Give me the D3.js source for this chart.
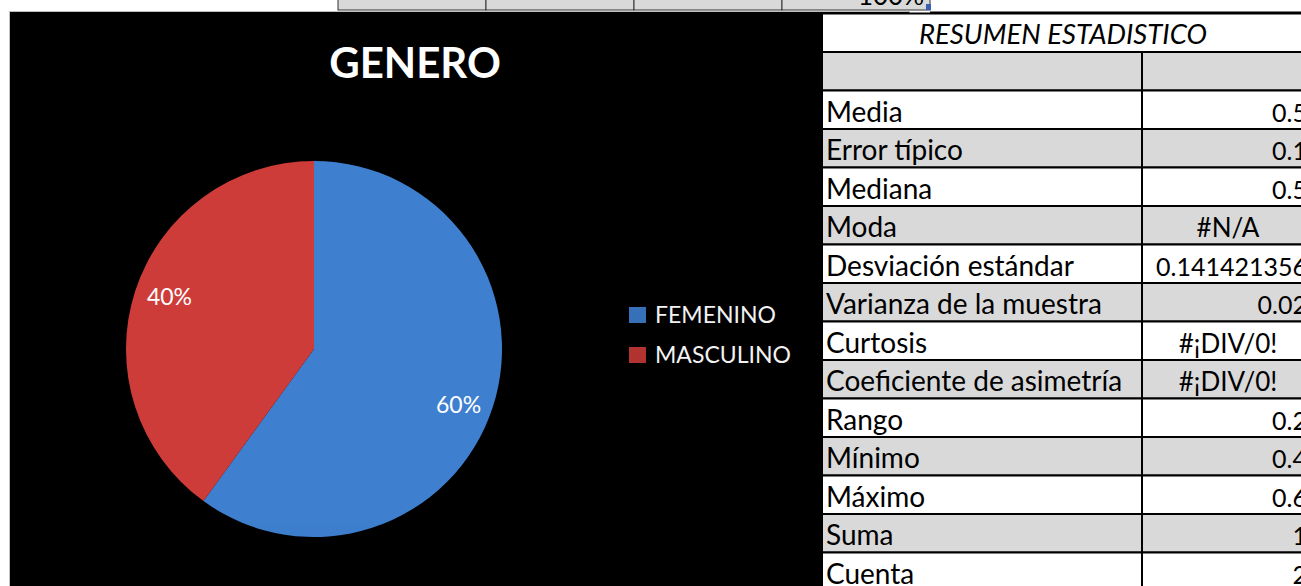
<!DOCTYPE html>
<html>
<head>
<meta charset="utf-8">
<script src="https://cdn.jsdelivr.net/npm/d3@7"></script>
<style>
  html, body { margin: 0; padding: 0; background: #ffffff; overflow: hidden; }
  svg { display: block; }
</style>
</head>
<body>
<svg id="chart" width="1301" height="586"></svg>
<script>
// ---- data ----
const chartTitle = "GENERO";
const categories = ["FEMENINO", "MASCULINO"];
const shares = [60, 40];
const tableTitle = "RESUMEN ESTADISTICO";
const statLabels = ["Media", "Error típico", "Mediana", "Moda", "Desviación estándar",
  "Varianza de la muestra", "Curtosis", "Coeficiente de asimetría", "Rango",
  "Mínimo", "Máximo", "Suma", "Cuenta"];
const statValues = ["0.5", "0.1", "0.5", "#N/A", "0.141421356", "0.02", "#¡DIV/0!",
  "#¡DIV/0!", "0.2", "0.4", "0.6", "1", "2"];
const topStripCells = ["", "", "", "100%"];

// ---- drawing ----
const svg = d3.select("#chart");
const FONT = "Lato, 'Open Sans', sans-serif";

// top strip of spreadsheet cells
const stripX = d3.scaleBand().domain(d3.range(topStripCells.length)).range([338, 930]).padding(0);
const strip = svg.append("g");
strip.selectAll("rect").data(topStripCells).join("rect")
  .attr("x", (d, i) => stripX(i)).attr("y", -20)
  .attr("width", stripX.bandwidth()).attr("height", 30)
  .attr("fill", "#d9d9d9").attr("stroke", "#333").attr("stroke-width", 1);
strip.selectAll("text").data(topStripCells).join("text")
  .attr("x", (d, i) => stripX(i) + stripX.bandwidth() - 6).attr("y", 5)
  .attr("text-anchor", "end").attr("font-family", FONT).attr("font-size", 26)
  .attr("fill", "#000").text(d => d);
strip.append("rect").attr("x", 926).attr("y", 4).attr("width", 5).attr("height", 6).attr("fill", "#3a5fb0");
svg.append("line").attr("x1", 930).attr("x2", 1301).attr("y1", 12.5).attr("y2", 12.5)
  .attr("stroke", "#000").attr("stroke-width", 2);

// chart area
svg.append("rect").attr("x", 9.5).attr("y", 11.5).attr("width", 900).attr("height", 600)
  .attr("fill", "#000").attr("stroke", "#bfbfbf").attr("stroke-width", 1);

svg.append("text").attr("x", 415).attr("y", 78).attr("text-anchor", "middle")
  .attr("font-family", FONT).attr("font-weight", 700).attr("font-size", 42)
  .attr("fill", "#ffffff").text(chartTitle);

// pie
const cx = 314, cy = 349, R = 188;
const defs = svg.append("defs");
const grads = [["#3e80cf", "#2c5a97"], ["#ce3c39", "#982a28"]];
categories.forEach((c, i) => {
  const g = defs.append("linearGradient").attr("id", "g" + i)
    .attr("gradientUnits", "userSpaceOnUse")
    .attr("x1", 0).attr("x2", 0).attr("y1", cy - R).attr("y2", cy + R);
  g.append("stop").attr("offset", 0).attr("stop-color", grads[i][0]);
  g.append("stop").attr("offset", 1).attr("stop-color", grads[i][1]);
});
const color = d3.scaleOrdinal().domain(categories).range(["url(#g0)", "url(#g1)"]);
const pie = d3.pie().sort(null).value(d => d.v);
const arcs = pie(categories.map((c, i) => ({ c, v: shares[i] })));
const arc = d3.arc().innerRadius(0).outerRadius(R);
const labelArc = d3.arc().innerRadius(152).outerRadius(152);
const pg = svg.append("g").attr("transform", `translate(${cx},${cy})`);
pg.selectAll("path").data(arcs).join("path")
  .attr("d", arc).attr("fill", d => color(d.data.c));
pg.selectAll("text").data(arcs).join("text")
  .attr("transform", d => {
    const [x, y] = labelArc.centroid(d);
    return `translate(${x},${y + (y > 0 ? 9 : -5)})`;
  })
  .attr("text-anchor", "middle").attr("dy", "0.35em")
  .attr("font-family", FONT).attr("font-size", 23).attr("fill", "#ffffff")
  .text(d => d3.format(".0%")(d.data.v / d3.sum(shares)));

// legend
const ly = d3.scalePoint().domain(categories).range([315, 355]);
const lg = svg.append("g");
lg.selectAll("rect").data(categories).join("rect")
  .attr("x", 629).attr("y", d => ly(d) - 8).attr("width", 17).attr("height", 16)
  .attr("fill", d => color(d));
lg.selectAll("text").data(categories).join("text")
  .attr("x", 655).attr("y", d => ly(d) + 8)
  .attr("font-family", FONT).attr("font-size", 23).attr("fill", "#f2f2f2")
  .text(d => d);

// statistics table
const rowH = 38.5, tableTop = 13.5, tx = 822, colX = 1142, tRight = 1314;
const rows = [{ label: tableTitle, value: null, title: true }, { label: "", value: "", header: true }]
  .concat(statLabels.map((l, i) => ({ label: l, value: statValues[i] })));
const ry = d3.scaleLinear().domain([0, 1]).range([tableTop, tableTop + rowH]);
const tg = svg.append("g");
tg.selectAll("rect.row").data(rows).join("rect").attr("class", "row")
  .attr("x", tx).attr("y", (d, i) => ry(i)).attr("width", tRight - tx).attr("height", rowH)
  .attr("fill", (d, i) => i % 2 === 1 ? "#d9d9d9" : "#ffffff")
  .attr("stroke", "#000").attr("stroke-width", 2);
tg.selectAll("line.col").data(rows.slice(1)).join("line").attr("class", "col")
  .attr("x1", colX).attr("x2", colX)
  .attr("y1", (d, i) => ry(i + 1)).attr("y2", (d, i) => ry(i + 2))
  .attr("stroke", "#000").attr("stroke-width", 2);
tg.selectAll("text.lab").data(rows).join("text").attr("class", "lab")
  .attr("x", d => d.title ? 1063 : tx + 4)
  .attr("y", (d, i) => ry(i) + (d.title ? 30 : 31))
  .attr("text-anchor", d => d.title ? "middle" : "start")
  .attr("font-style", d => d.title ? "italic" : "normal")
  .attr("font-family", FONT).attr("font-size", d => d.title ? 27.5 : 28).attr("fill", "#000")
  .text(d => d.label);
tg.selectAll("text.val").data(rows.filter(d => d.value)).join("text").attr("class", "val")
  .attr("x", d => d.value.startsWith("#") ? 1228 : 1307)
  .attr("y", d => ry(rows.indexOf(d)) + 31)
  .attr("text-anchor", d => d.value.startsWith("#") ? "middle" : "end")
  .attr("font-family", FONT).attr("font-size", d => d.value.startsWith("#") ? 26 : 25).attr("fill", "#000")
  .text(d => d.value);
</script>
</body>
</html>
